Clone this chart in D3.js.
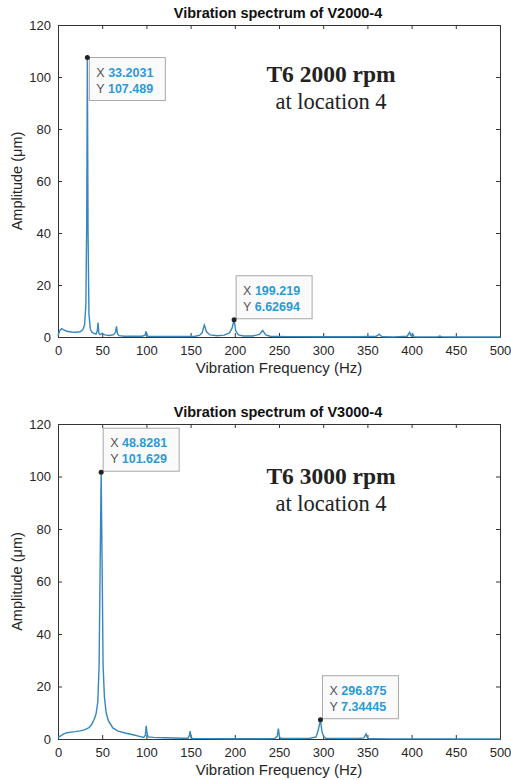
<!DOCTYPE html>
<html>
<head>
<meta charset="utf-8">
<script src="https://cdn.jsdelivr.net/npm/d3@7"></script>
<style>
  body { margin: 0; background: #fff; }
  svg { display: block; font-family: "Liberation Sans", Arial, sans-serif; }
</style>
</head>
<body>
<svg id="chart" width="511" height="780"></svg>
<script>
// tick labels
var xTicks = [0, 50, 100, 150, 200, 250, 300, 350, 400, 450, 500];
var yTicks = [0, 20, 40, 60, 80, 100, 120];

// spectrum V2000-4
var freq2000 = [0, 2, 4, 6, 10, 15, 20, 25, 28, 30, 31.5, 32.5, 33.2031, 34, 35, 36.5, 38, 40, 43, 44.5, 45.3, 46.2, 47.5, 50, 51, 53, 58, 63, 65, 66.2, 67.3, 69, 75, 85, 95, 98.5, 99.6, 100.5, 102, 120, 140, 155, 160, 163, 165.5, 168, 172, 180, 188, 194, 197, 199.219, 201, 204, 210, 220, 228, 231.5, 235, 240, 260, 300, 340, 360, 363.5, 365, 367, 380, 395, 397.8, 399.2, 400.5, 401.4, 403, 420, 430, 432, 434, 460, 500];
var amp2000 =  [0.5, 2.5, 3.2, 2.8, 2.2, 1.9, 1.8, 2.0, 2.8, 4.5, 12, 45, 107.489, 40, 9, 3.2, 2.0, 1.5, 1.1, 2.5, 5.6, 1.5, 0.9, 1.4, 1.1, 0.8, 0.6, 0.9, 1.8, 4.1, 1.2, 0.5, 0.3, 0.3, 0.3, 0.7, 2.2, 0.5, 0.3, 0.2, 0.2, 0.3, 0.6, 1.6, 4.6, 2.0, 0.8, 0.5, 0.7, 1.6, 3.5, 6.62694, 2.5, 0.8, 0.4, 0.4, 1.0, 2.5, 0.8, 0.3, 0.15, 0.1, 0.1, 0.3, 1.1, 0.5, 0.1, 0.05, 0.3, 1.8, 0.6, 0.3, 1.1, 0.1, 0.05, 0.1, 0.4, 0.05, 0.02, 0.02];

// spectrum V3000-4
var freq3000 = [0, 3, 6, 10, 15, 20, 25, 30, 35, 38, 41, 43, 45, 46.5, 47.8, 48.8281, 49.8, 51, 52.5, 54.5, 57, 62, 68, 77, 85, 92, 97, 98.8, 99.8, 100.8, 102, 108, 120, 140, 147, 148.5, 149.5, 150.5, 152, 170, 200, 230, 245, 248, 249.3, 250.5, 252, 270, 285, 292, 294.5, 296.875, 298.5, 300.5, 303, 320, 340, 346, 348.5, 350, 352, 380, 420, 460, 500];
var amp3000 =  [0.6, 1.2, 1.9, 2.4, 2.6, 2.8, 3.1, 3.5, 4.3, 5.5, 7.5, 9.5, 14, 28, 70, 101.629, 70, 28, 16, 10, 7, 4.2, 3.0, 2.2, 1.6, 1.0, 0.6, 1.5, 5.0, 2.0, 0.8, 0.6, 0.5, 0.3, 0.3, 1.2, 3.0, 0.8, 0.2, 0.15, 0.1, 0.1, 0.2, 1.0, 4.0, 0.9, 0.2, 0.2, 0.3, 0.8, 3.5, 7.34445, 3.0, 0.9, 0.3, 0.2, 0.2, 0.4, 1.9, 0.5, 0.1, 0.05, 0.05, 0.02, 0.02];

var panels = [
  { title: "Vibration spectrum of V2000-4", freq: freq2000, amp: amp2000,
    top: 25, bottom: 337, tips: [[33.2031, 107.489, "r"], [199.219, 6.62694, "t"]],
    label1: "T6 2000 rpm", label2: "at location 4", labelY: 82 },
  { title: "Vibration spectrum of V3000-4", freq: freq3000, amp: amp3000,
    top: 424, bottom: 739, tips: [[48.8281, 101.629, "b"], [296.875, 7.34445, "t"]],
    label1: "T6 3000 rpm", label2: "at location 4", labelY: 484 }
];

var svg = d3.select("#chart");
var left = 58, right = 500;
var lineColor = "#3587bf";
var textColor = "#262626";

panels.forEach(function(p) {
  var x = d3.scaleLinear().domain([0, 500]).range([left, right]);
  var y = d3.scaleLinear().domain([0, 120]).range([p.bottom, p.top]);
  var g = svg.append("g");

  // axes, ticks pointing inward like matlab
  g.append("g").attr("transform", "translate(0," + p.bottom + ")")
    .call(d3.axisBottom(x).tickValues(xTicks).tickSizeInner(-4).tickSizeOuter(0).tickPadding(9));
  g.append("g").attr("transform", "translate(0," + p.top + ")")
    .call(d3.axisTop(x).tickValues(xTicks).tickSizeInner(-4).tickSizeOuter(0).tickFormat(""));
  g.append("g").attr("transform", "translate(" + left + ",0)")
    .call(d3.axisLeft(y).tickValues(yTicks).tickSizeInner(-4).tickSizeOuter(0).tickPadding(7));
  g.append("g").attr("transform", "translate(" + right + ",0)")
    .call(d3.axisRight(y).tickValues(yTicks).tickSizeInner(-4).tickSizeOuter(0).tickFormat(""));

  g.selectAll(".domain").attr("stroke", "#333").attr("stroke-width", 1);
  g.selectAll(".tick line").attr("stroke", "#333");
  g.selectAll(".tick text").attr("fill", textColor).style("font-size", "13px")
    .style("font-family", "Liberation Sans, Arial, sans-serif");

  // spectrum line
  var pts = p.freq.map(function(f, i) { return [f, p.amp[i]]; });
  g.append("path").datum(pts)
    .attr("fill", "none").attr("stroke", lineColor).attr("stroke-width", 1.4)
    .attr("d", d3.line().x(function(d) { return x(d[0]); }).y(function(d) { return y(d[1]); }));

  // title and axis labels
  g.append("text").attr("x", (left + right) / 2 - 1).attr("y", p.top - 7)
    .attr("text-anchor", "middle").attr("font-weight", "bold").attr("font-size", 14.5)
    .attr("fill", "#111").text(p.title);
  g.append("text").attr("x", (left + right) / 2).attr("y", p.bottom + 36)
    .attr("text-anchor", "middle").attr("font-size", 15).attr("fill", textColor)
    .text("Vibration Frequency (Hz)");
  g.append("text")
    .attr("transform", "translate(22," + (p.top + p.bottom) / 2 + ") rotate(-90)")
    .attr("text-anchor", "middle").attr("font-size", 14.5).attr("fill", textColor)
    .text("Amplitude (\u03bcm)");

  // annotation text
  g.append("text").attr("x", 331).attr("y", p.labelY).attr("text-anchor", "middle")
    .attr("font-family", "Liberation Serif, Times New Roman, serif")
    .attr("font-weight", "bold").attr("font-size", 23.5).attr("fill", "#222").text(p.label1);
  g.append("text").attr("x", 331).attr("y", p.labelY + 27).attr("text-anchor", "middle")
    .attr("font-family", "Liberation Serif, Times New Roman, serif")
    .attr("font-size", 22.5).attr("fill", "#222").text(p.label2);

  // data tips
  p.tips.forEach(function(t) {
    var px = x(t[0]), py = y(t[1]);
    var bw = 76, bh = 43, bx, by;
    if (t[2] === "r") { bx = px + 2; by = py; }
    else { bx = px + 2; by = py - bh - 1; }
    g.append("rect").attr("x", bx).attr("y", by).attr("width", bw).attr("height", bh)
      .attr("fill", "#fafafa").attr("stroke", "#a8a8a8").attr("stroke-width", 1);
    [["X", t[0]], ["Y", t[1]]].forEach(function(r, i) {
      var tx = g.append("text").attr("x", bx + 7).attr("y", by + 19 + i * 16)
        .attr("font-size", 12.5);
      tx.append("tspan").attr("fill", "#555").text(r[0] + " ");
      tx.append("tspan").attr("fill", "#2b9ad8").attr("font-weight", "bold").text(String(r[1]));
    });
    g.append("circle").attr("cx", px).attr("cy", py).attr("r", 2.5).attr("fill", "#222");
  });
});
</script>
</body>
</html>
